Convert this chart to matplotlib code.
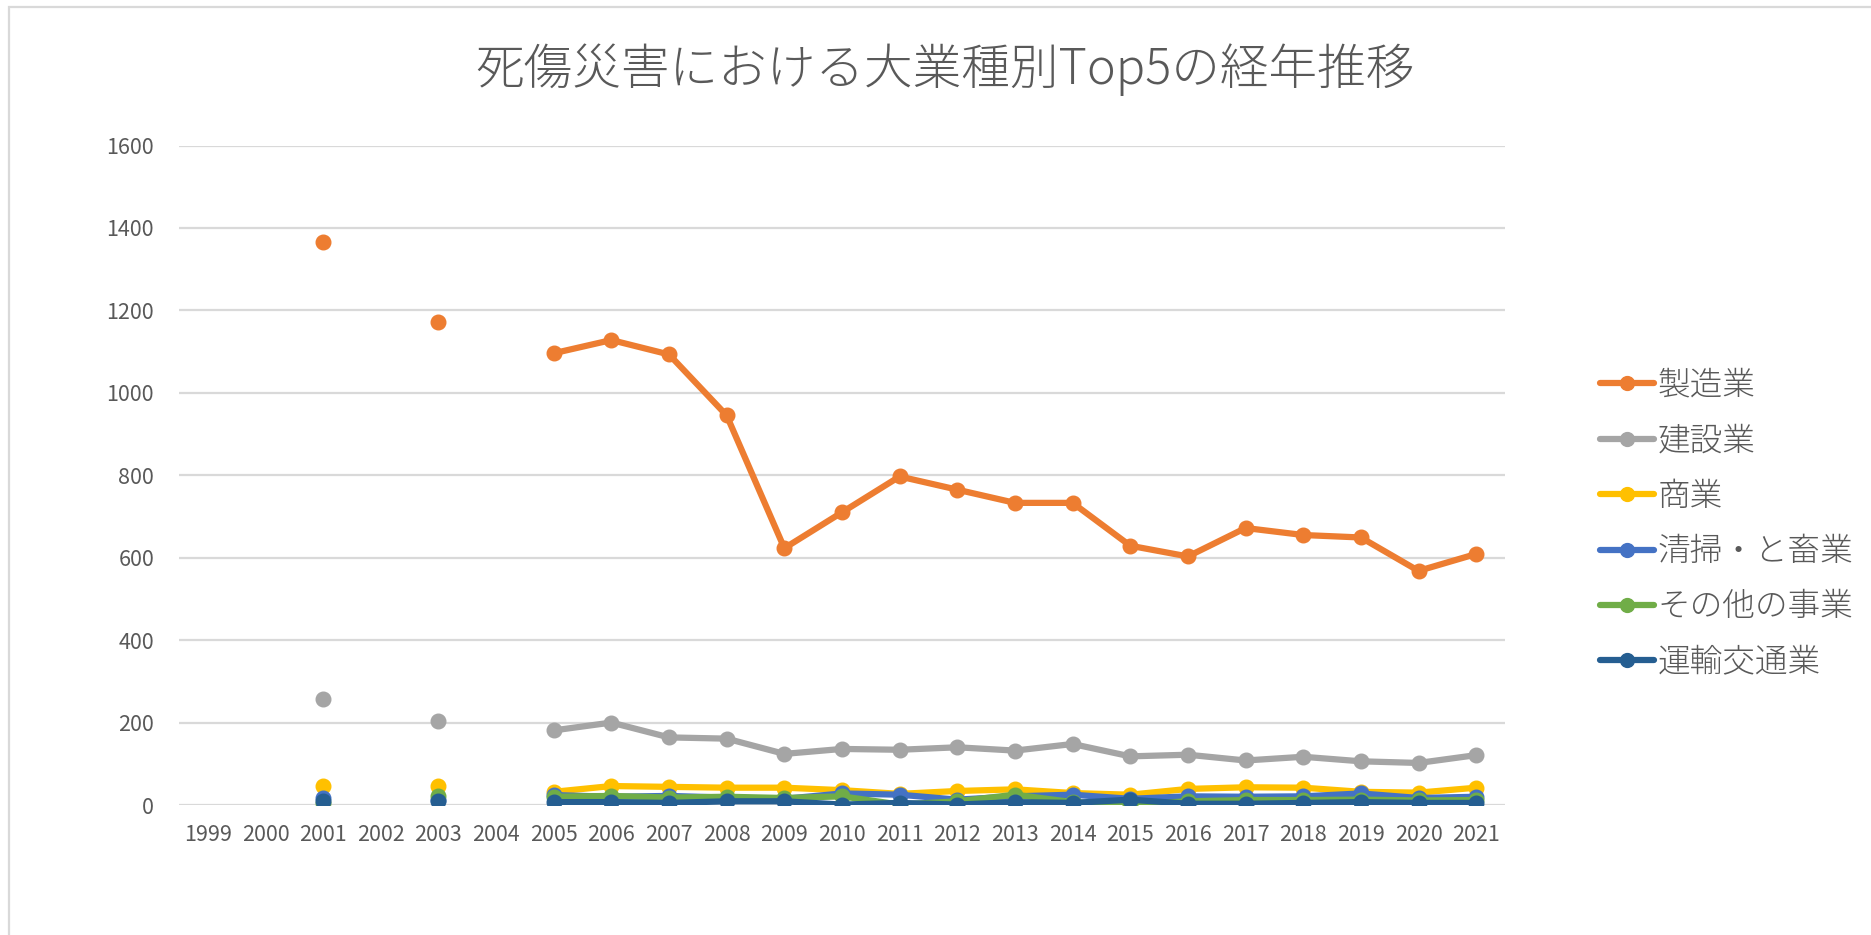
import numpy as np
import matplotlib.pyplot as plt
from matplotlib.patches import Rectangle

plt.rcParams['font.family'] = ['Noto Sans CJK JP', 'DejaVu Sans']

years = [str(y) for y in range(1999, 2022)]
nan = np.nan

# 1999, 2000, 2002, 2004 have no data
seizou = [nan, nan, 1365, nan, 1171, nan, 1096, 1128, 1093, 945, 623, 710,
          797, 765, 733, 733, 629, 603, 672, 655, 649, 568, 609]
kensetsu = [nan, nan, 256, nan, 205, nan, 181, 200, 164, 161, 124, 136,
            134, 140, 132, 148, 118, 122, 108, 117, 106, 102, 121]
shougyou = [nan, nan, 47, nan, 47, nan, 32, 46, 44, 42, 42, 36,
            27, 34, 38, 29, 25, 39, 43, 42, 32, 30, 42]
seisou = [nan, nan, 18, nan, 12, nan, 24, 20, 22, 18, 15, 28,
          25, 13, 21, 25, 15, 21, 20, 21, 28, 17, 20]
sonota = [nan, nan, 6, nan, 22, nan, 20, 22, 18, 20, 17, 21,
          1, 9, 25, 7, 1, 9, 12, 12, 13, 11, 12]
unyu = [nan, nan, 10, nan, 10, nan, 7, 7, 5, 9, 9, 1,
        5, 1, 7, 5, 13, 3, 3, 5, 7, 5, 5]

series = [
    ('製造業', seizou, '#ED7D31'),
    ('建設業', kensetsu, '#A5A5A5'),
    ('商業', shougyou, '#FFC000'),
    ('清掃・と畜業', seisou, '#4472C4'),
    ('その他の事業', sonota, '#70AD47'),
    ('運輸交通業', unyu, '#255E91'),
]

txt = '#595959'
W, H = 1871, 935

fig = plt.figure(figsize=(W / 100, H / 100), dpi=100)
ax = fig.add_axes([179 / W, 1 - 805 / H, (1505 - 179) / W, (805 - 145.5) / H])

x = np.arange(len(years))
for name, vals, col in series:
    ax.plot(x, vals, color=col, lw=4.5, marker='o', ms=10.5, label=name,
            solid_capstyle='round', solid_joinstyle='round')

ax.set_xlim(-0.5, len(years) - 0.5)
ax.set_ylim(0, 1600)
ax.set_yticks(range(0, 1601, 200))
ax.set_xticks(x)
ax.set_xticklabels(years)
ax.grid(axis='y', color='#D9D9D9', lw=1.6)
ax.set_axisbelow(True)
for s in ax.spines.values():
    s.set_visible(False)
ax.tick_params(length=0, labelsize=15.5, labelcolor=txt)
ax.tick_params(axis='x', pad=14)
ax.tick_params(axis='y', pad=18)
for lab in ax.get_xticklabels():
    lab.set_clip_on(False)

fig.text(945 / W, 1 - 70 / H, '死傷災害における大業種別Top5の経年推移',
         ha='center', va='center', fontsize=35, color=txt, fontweight='light')

fig.legend(loc='upper left', bbox_to_anchor=(1584 / W, 1 - 352 / H),
           frameon=False, handlelength=1.65, handletextpad=0.1,
           labelspacing=0.64, borderpad=0, markerscale=0.95, labelcolor=txt,
           prop={'weight': 'light', 'size': 23.5})

fig.patches.append(Rectangle((9 / W, -0.1), 1.2, 1.1 - 7 / H,
                             transform=fig.transFigure, fill=False,
                             edgecolor='#D9D9D9', lw=1.6))

fig.savefig('out.png', dpi=100, facecolor='white')
